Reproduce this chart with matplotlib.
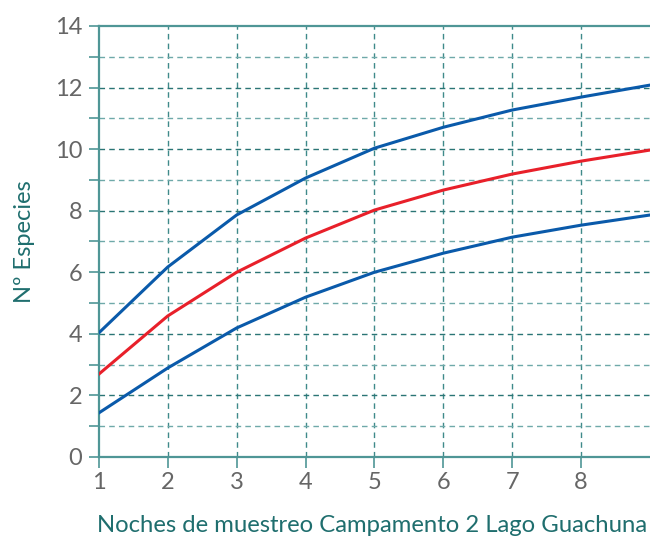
import numpy as np
import matplotlib.pyplot as plt
from matplotlib.ticker import MultipleLocator

noches = [1, 2, 3, 4, 5, 6, 7, 8, 9]
limite_superior = [4.03, 6.17, 7.86, 9.06, 10.03, 10.71, 11.27, 11.69, 12.08]
especies_estimadas = [2.69, 4.58, 6.00, 7.11, 8.02, 8.67, 9.19, 9.61, 9.97]
limite_inferior = [1.43, 2.89, 4.19, 5.19, 6.00, 6.62, 7.14, 7.53, 7.86]

x_ticks = [1, 2, 3, 4, 5, 6, 7, 8]
y_ticks = [0, 2, 4, 6, 8, 10, 12, 14]

teal = '#1f6e6e'
spine_col = '#4f9696'

plt.rcParams['font.family'] = ['Lato', 'DejaVu Sans']

fig = plt.figure(figsize=(6.5, 5.38), dpi=100)
ax = fig.add_axes([0.152, 0.1506, 0.848, 0.8011])

# rejilla
for xv in x_ticks[1:]:
    ax.axvline(xv, color='#3f8a8a', lw=1.0, ls=(0, (4, 3)), zorder=1)
for yv in range(1, 14):
    col = '#2a7575' if yv % 2 == 0 else '#6fa9a9'
    ax.axhline(yv, color=col, lw=1.0, ls=(0, (4, 3)), zorder=1)

ax.plot(noches, limite_superior, color='#0a5aaa', lw=2.2, zorder=3)
ax.plot(noches, especies_estimadas, color='#e8202a', lw=2.2, zorder=3)
ax.plot(noches, limite_inferior, color='#0a5aaa', lw=2.2, zorder=3)

ax.set_xlim(1, 9)
ax.set_ylim(0, 14)
ax.set_xticks(x_ticks)
ax.set_yticks(y_ticks)
ax.yaxis.set_minor_locator(MultipleLocator(1))

for s in ['left', 'bottom', 'top']:
    ax.spines[s].set_color(spine_col)
    ax.spines[s].set_linewidth(1.6)
ax.spines['right'].set_visible(False)

ax.tick_params(axis='both', which='both', color=spine_col, width=1.2,
               labelcolor='#666666', labelsize=17)
ax.tick_params(axis='x', which='major', length=8, pad=3)
ax.tick_params(axis='y', which='both', length=7, pad=5)

ax.set_xlabel('Noches de muestreo Campamento 2 Lago Guachuna',
              color=teal, fontsize=17.2, labelpad=16, x=0.495)
ax.set_ylabel('Nº Especies', color=teal, fontsize=17, labelpad=14)

fig.savefig('out.png', dpi=100)
